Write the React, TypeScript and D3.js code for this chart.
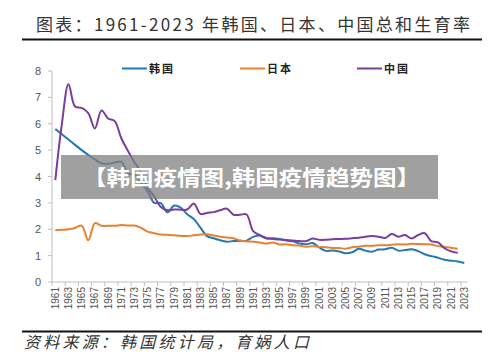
import React from "react";
import * as d3 from "d3";

const years: number[] = d3.range(1961, 2024);
const yTicks: number[] = [0, 1, 2, 3, 4, 5, 6, 7, 8];
const seriesNames: string[] = ["韩国", "日本", "中国"];
const seriesColors: string[] = ["#2478b4", "#e8822e", "#7a3e9d"];

const korea: (number | null)[] = [
  5.8, 5.6, 5.4, 5.2, 5.0, 4.82, 4.65, 4.5, 4.48, 4.53,
  4.56, 4.12, 4.07, 3.77, 3.43, 3.0, 2.99, 2.64, 2.9, 2.82,
  2.57, 2.39, 2.06, 1.74, 1.66, 1.58, 1.53, 1.55, 1.56, 1.57,
  1.71, 1.76, 1.65, 1.66, 1.63, 1.57, 1.54, 1.46, 1.43, 1.48,
  1.31, 1.18, 1.19, 1.16, 1.09, 1.13, 1.26, 1.19, 1.15, 1.23,
  1.24, 1.3, 1.19, 1.21, 1.24, 1.17, 1.05, 0.98, 0.92, 0.84,
  0.81, 0.78, 0.72,
];

const japan: (number | null)[] = [
  1.96, 1.98, 2.0, 2.05, 2.14, 1.58, 2.23, 2.13, 2.13, 2.13,
  2.16, 2.14, 2.14, 2.05, 1.91, 1.85, 1.8, 1.79, 1.77, 1.75,
  1.74, 1.77, 1.8, 1.81, 1.76, 1.72, 1.69, 1.66, 1.57, 1.54,
  1.53, 1.5, 1.46, 1.5, 1.42, 1.43, 1.39, 1.38, 1.34, 1.36,
  1.33, 1.32, 1.29, 1.29, 1.26, 1.32, 1.34, 1.37, 1.37, 1.39,
  1.39, 1.41, 1.43, 1.42, 1.45, 1.44, 1.43, 1.42, 1.36, 1.33,
  1.3, 1.26, null,
];

const china: (number | null)[] = [
  3.86, 6.0, 7.5, 6.65, 6.6, 6.4, 5.82, 6.5, 6.2, 6.1,
  5.45, 4.98, 4.54, 4.17, 3.57, 3.24, 2.84, 2.72, 2.75, 2.74,
  2.75, 2.98, 2.58, 2.62, 2.65, 2.72, 2.78, 2.55, 2.55, 2.56,
  1.93, 1.78, 1.67, 1.63, 1.61, 1.59, 1.57, 1.55, 1.55, 1.65,
  1.6, 1.6, 1.62, 1.63, 1.64, 1.66, 1.68, 1.72, 1.74, 1.72,
  1.67, 1.82, 1.72, 1.78, 1.65, 1.78, 1.85, 1.55, 1.5, 1.28,
  1.16, 1.11, null,
];

const titleText = "图表：1961-2023 年韩国、日本、中国总和生育率";
const sourceText = "资料来源：韩国统计局，育娲人口";
const watermarkText = "【韩国疫情图,韩国疫情趋势图】";

export default function App() {
  const W = 500;
  const H = 355;
  const left = 52;
  const right = 467.6;
  const top = 71;
  const bottom = 282;

  const x = d3.scaleBand<number>().domain(years).range([left, right]).padding(0);
  const bw = x.bandwidth();
  const cx = (yr: number) => (x(yr) as number) + bw / 2;
  const y = d3.scaleLinear().domain([0, 8]).range([bottom, top]);

  const allSeries = [korea, japan, china];
  const line = d3
    .line<[number, number | null]>()
    .defined((d) => d[1] != null)
    .x((d) => cx(d[0]))
    .y((d) => y(d[1] as number))
    .curve(d3.curveCatmullRom.alpha(0.5));

  const tickYears = years.filter((_, i) => i % 2 === 0);
  const legendX = [122, 240, 357];

  return (
    <svg width={W} height={H} style={{ position: "absolute", left: 0, top: 0, background: "#fff" }}>
      <rect x={0} y={0} width={W} height={H} fill="#fff" />
      <text
        x={36}
        y={31}
        fontFamily="'Noto Sans CJK SC'"
        fontSize={17}
        fill="#333"
        textLength={434}
        lengthAdjust="spacing"
      >
        {titleText}
      </text>
      <line x1={22} x2={482} y1={39.5} y2={39.5} stroke="#111" strokeWidth={2.2} />

      {/* legend */}
      {seriesNames.map((n, i) => (
        <g key={n}>
          <line x1={legendX[i]} x2={legendX[i] + 25} y1={68.5} y2={68.5} stroke={seriesColors[i]} strokeWidth={2} />
          <text
            x={legendX[i] + 27}
            y={72.5}
            fontFamily="'Noto Sans CJK SC'"
            fontSize={11}
            fontWeight="bold"
            fill="#222"
            letterSpacing={2}
          >
            {n}
          </text>
        </g>
      ))}

      {/* y axis */}
      <line x1={left} x2={left} y1={top} y2={bottom} stroke="#bfbfbf" strokeWidth={1} />
      {yTicks.map((t) => (
        <g key={t}>
          <line x1={left - 4} x2={left} y1={y(t)} y2={y(t)} stroke="#bfbfbf" />
          <text
            x={41}
            y={y(t) + 4}
            textAnchor="end"
            fontFamily="'Liberation Sans', Arial"
            fontSize={11}
            fill="#555"
          >
            {t}
          </text>
        </g>
      ))}

      {/* x axis */}
      <line x1={left} x2={right} y1={bottom} y2={bottom} stroke="#bfbfbf" strokeWidth={1} />
      {tickYears.map((yr) => (
        <g key={yr}>
          <line x1={x(yr) as number} x2={x(yr) as number} y1={bottom} y2={bottom + 4} stroke="#bfbfbf" />
          <text
            transform={`translate(${cx(yr) + 3.5},${bottom + 5}) rotate(-90)`}
            textAnchor="end"
            fontFamily="'Liberation Sans', Arial"
            fontSize={10}
            fill="#555"
          >
            {yr}
          </text>
        </g>
      ))}

      {/* lines */}
      {allSeries.map((s, i) => (
        <path
          key={i}
          d={line(years.map((yr, j) => [yr, s[j]] as [number, number | null])) || ""}
          fill="none"
          stroke={seriesColors[i]}
          strokeWidth={2}
          strokeLinejoin="round"
        />
      ))}

      {/* watermark overlay */}
      <rect x={61} y={155} width={377} height={44} fill="#808080" opacity={0.75} />
      <text
        x={83}
        y={185}
        fontFamily="'Noto Sans CJK SC'"
        fontSize={21}
        fontWeight="bold"
        fill="#fff"
        textLength={337}
        lengthAdjust="spacingAndGlyphs"
      >
        {watermarkText}
      </text>

      <line x1={22} x2={482} y1={331.5} y2={331.5} stroke="#111" strokeWidth={2.2} />
      <text
        x={24}
        y={348}
        fontFamily="'Noto Sans CJK SC'"
        fontSize={16}
        fontStyle="italic"
        fill="#333"
        textLength={285}
        lengthAdjust="spacing"
      >
        {sourceText}
      </text>
    </svg>
  );
}
